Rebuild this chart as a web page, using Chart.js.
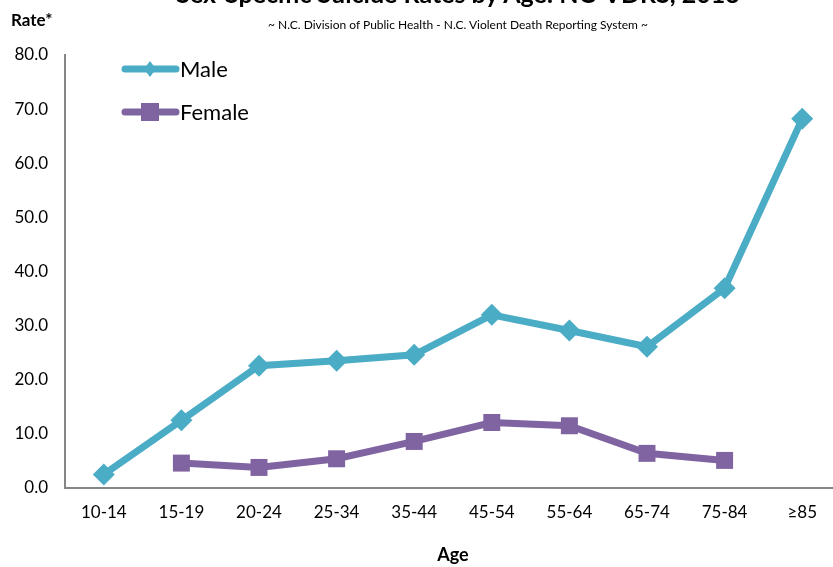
<!DOCTYPE html>
<html><head><meta charset="utf-8">
<script src="https://cdn.jsdelivr.net/npm/chart.js@4"></script>
<style>
html,body{margin:0;padding:0;background:#fff;overflow:hidden;width:833px;height:567px;}
#wrap{position:absolute;left:0;top:0;width:841px;height:567px;}
.t{position:absolute;font-family:Lato,"Open Sans",sans-serif;color:#000;white-space:nowrap;}
</style></head><body>
<div id="wrap"><canvas id="c" width="841" height="567"></canvas></div>
<div class="t" style="left:0;width:916px;text-align:center;top:-22px;font-size:25px;font-weight:bold;">Sex-Specific Suicide Rates by Age: NC-VDRS, 2013</div>
<div class="t" style="left:0;width:916px;text-align:center;top:17px;font-size:12px;">~ N.C. Division of Public Health - N.C. Violent Death Reporting System ~</div>
<div class="t" style="left:11px;top:9px;font-size:17px;font-weight:bold;">Rate*</div>
<div class="t" style="left:0;width:906px;text-align:center;top:543px;font-size:18px;font-weight:bold;">Age</div>
<script>
const categories = ["10-14","15-19","20-24","25-34","35-44","45-54","55-64","65-74","75-84","\u226585"];
const maleRates = [2.5,12.5,22.6,23.5,24.6,32.0,29.1,26.1,36.9,68.2];
const femaleRates = [null,4.6,3.8,5.4,8.6,12.1,11.5,6.4,5.1,null];
const yTicks = [0,10,20,30,40,50,60,70,80];
const MALE = "#4BACC6", FEMALE = "#8064A2";

const legendPlugin = {
  id:'customLegend',
  afterDraw(chart){
    const ctx = chart.ctx;
    const items = [
      {label:"Male", color:MALE, style:"rectRot", y:69},
      {label:"Female", color:FEMALE, style:"rect", y:112}
    ];
    ctx.save();
    items.forEach(it=>{
      ctx.strokeStyle = it.color; ctx.lineWidth = 7; ctx.lineCap = "round";
      ctx.beginPath(); ctx.moveTo(125,it.y); ctx.lineTo(176,it.y); ctx.stroke();
      ctx.fillStyle = it.color;
      if(it.style==="rect"){ ctx.fillRect(141,it.y-9,18,18); }
      else { ctx.beginPath(); ctx.moveTo(150,it.y-8); ctx.lineTo(156,it.y); ctx.lineTo(150,it.y+8); ctx.lineTo(144,it.y); ctx.closePath(); ctx.fill(); }
      ctx.fillStyle = "#000"; ctx.font = "22px Lato, 'Open Sans', sans-serif"; ctx.textBaseline = "middle";
      ctx.fillText(it.label,180,it.y+1);
    });
    ctx.restore();
  }
};

new Chart(document.getElementById('c'),{
  type:'line',
  data:{labels:categories,datasets:[
    {label:"Male",data:maleRates,borderColor:MALE,backgroundColor:MALE,borderWidth:7,pointStyle:'rectRot',pointRadius:11,pointHoverRadius:11,pointBorderWidth:0,tension:0},
    {label:"Female",data:femaleRates,borderColor:FEMALE,backgroundColor:FEMALE,borderWidth:7,pointStyle:'rect',pointRadius:12,pointHoverRadius:12,pointBorderWidth:0,tension:0}
  ]},
  options:{
    responsive:false,animation:false,
    layout:{autoPadding:false,padding:{top:55,left:0,right:0,bottom:0}},
    plugins:{legend:{display:false},tooltip:{enabled:false}},
    scales:{
      x:{offset:true,grid:{display:false,drawTicks:false},border:{color:"#868686",width:2},
         ticks:{color:"#000",font:{family:"Lato, 'Open Sans', sans-serif",size:17},padding:14,maxRotation:0,autoSkip:false},
         afterFit(s){s.height=79;}},
      y:{min:0,max:80,grid:{display:false,drawTicks:false},border:{color:"#868686",width:2},
         afterBuildTicks(s){s.ticks=yTicks.map(v=>({value:v}));},
         ticks:{color:"#000",font:{family:"Lato, 'Open Sans', sans-serif",size:17},padding:17,callback:v=>Number(v).toFixed(1)},
         afterFit(s){s.width=65;}}
    }
  },
  plugins:[legendPlugin]
});
</script>
</body></html>
